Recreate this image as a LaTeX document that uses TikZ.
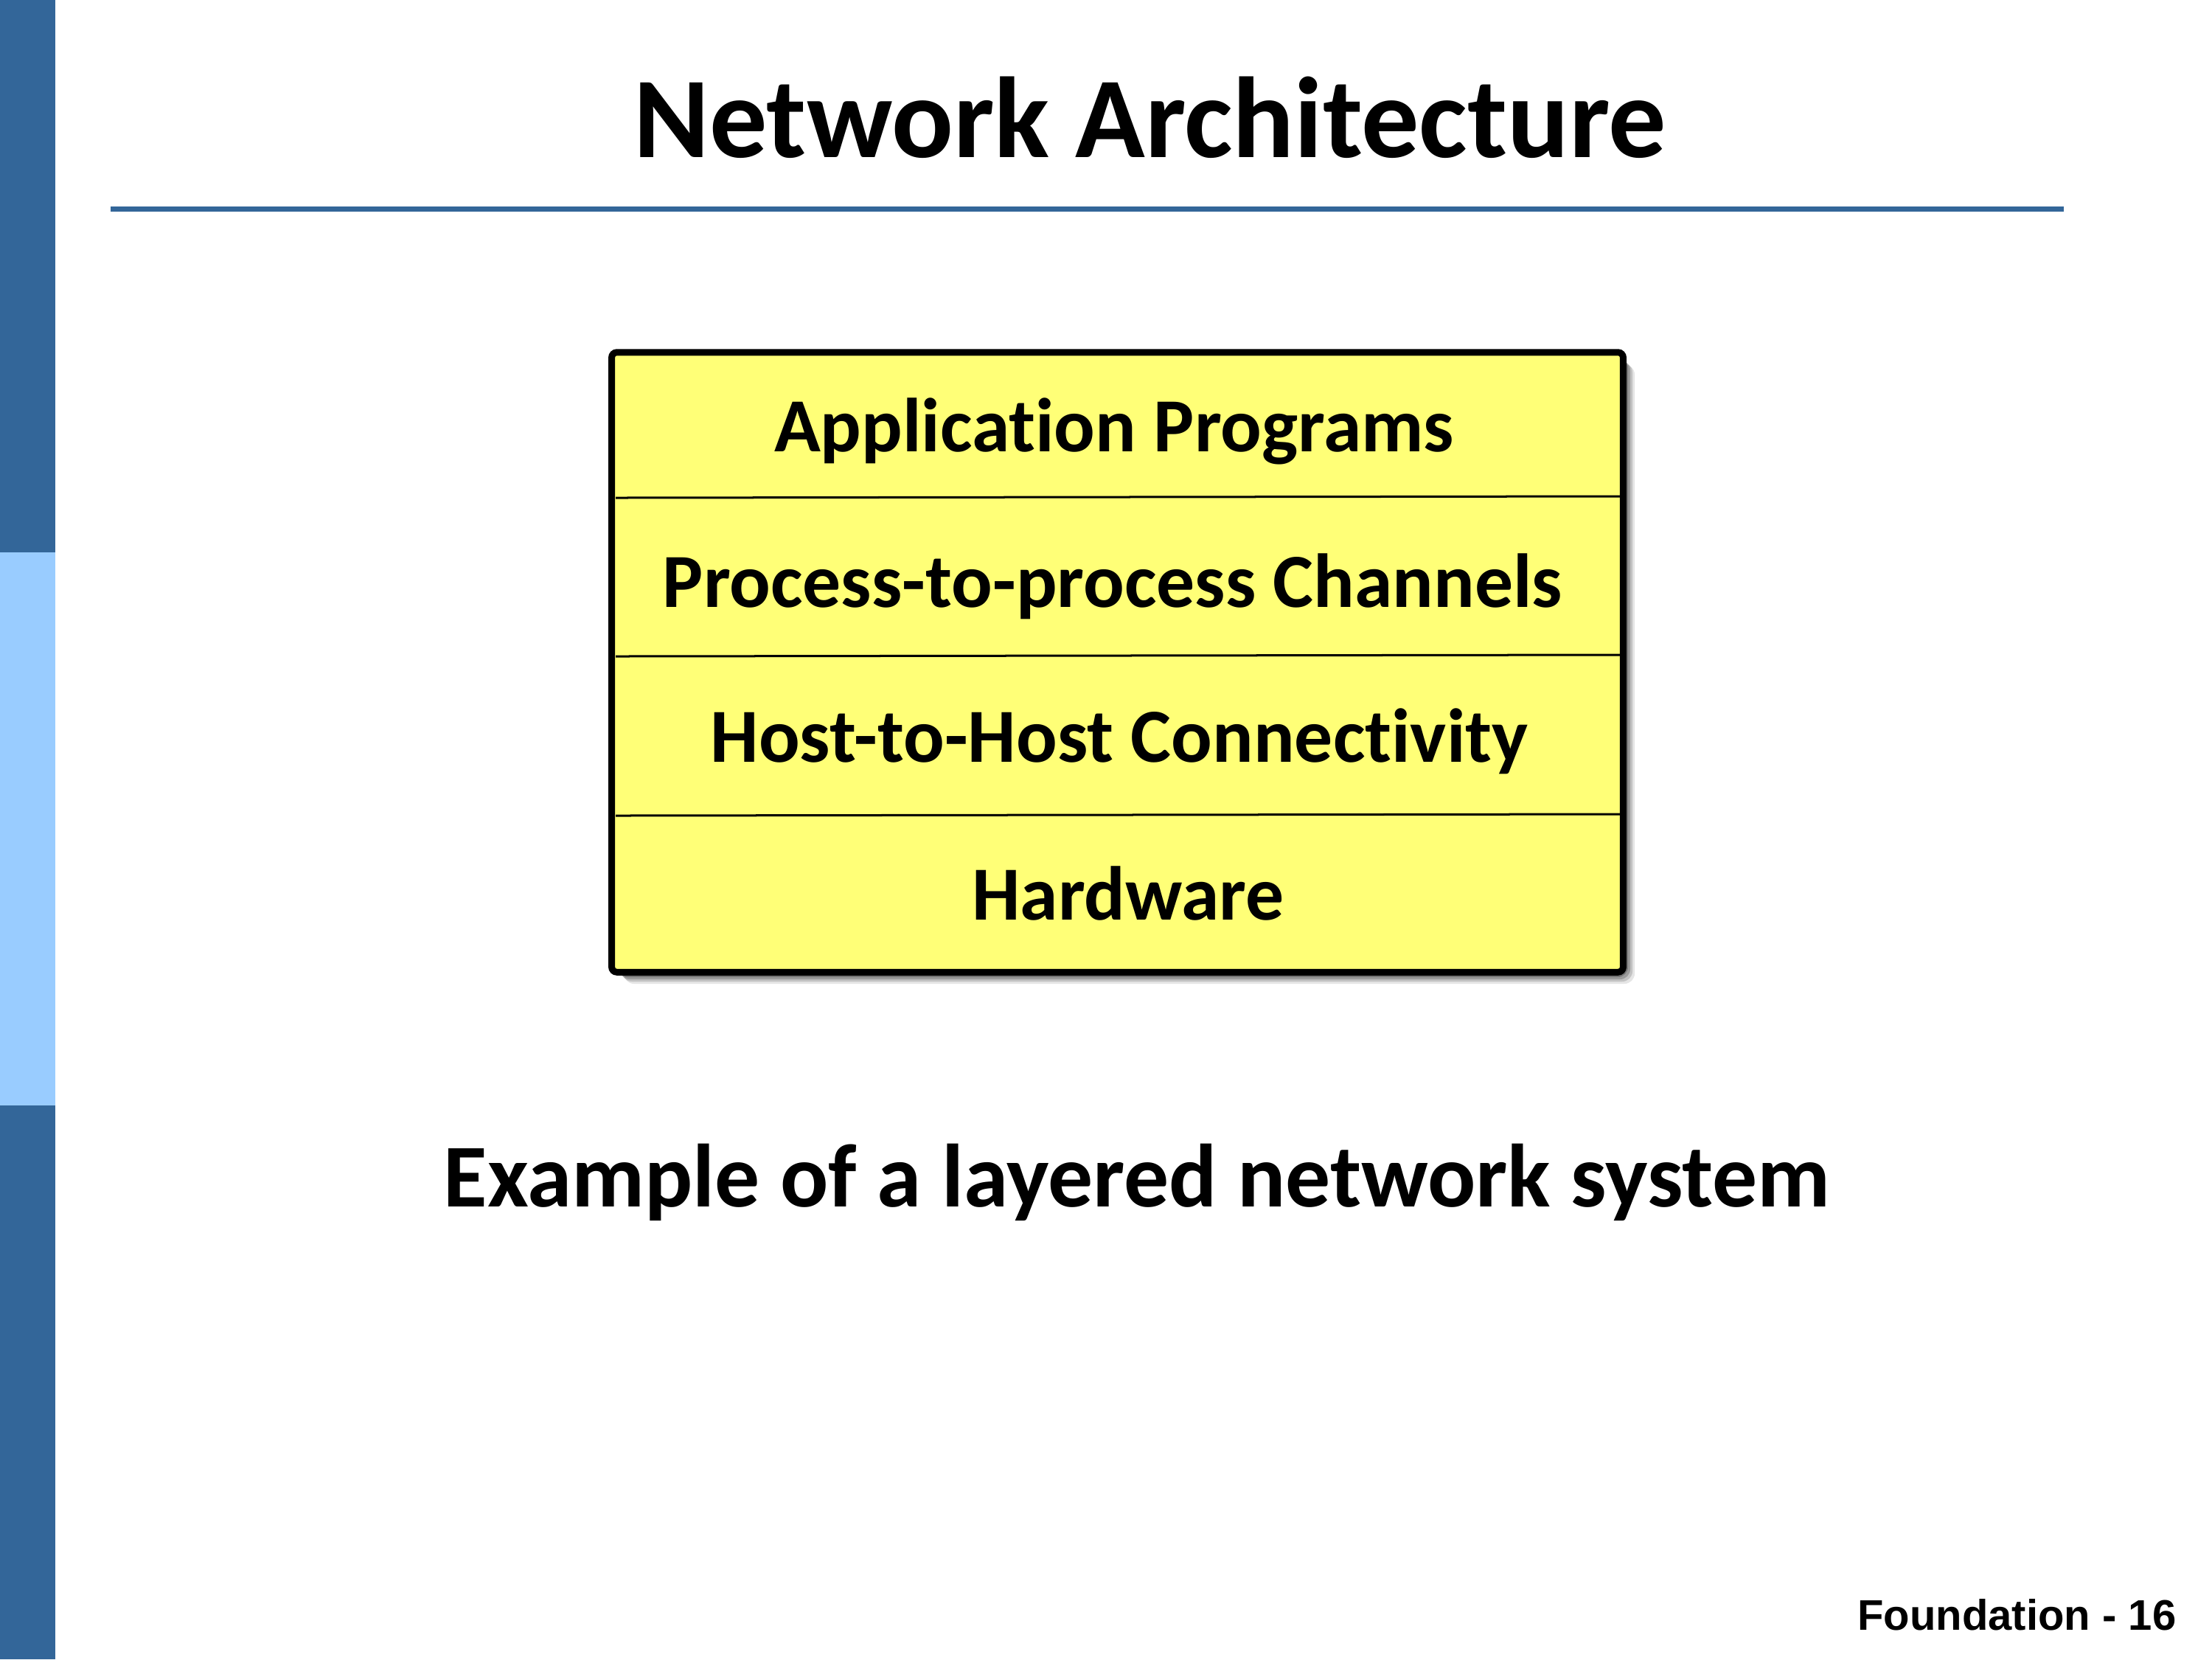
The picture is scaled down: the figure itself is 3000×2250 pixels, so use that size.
\documentclass[tikz,border=0pt]{standalone}
\usepackage{fontspec}
\setmainfont[Ligatures=NoCommon]{Carlito}
\newfontfamily\footfont{Liberation Sans}
\definecolor{darkbar}{HTML}{336699}
\definecolor{lightbar}{HTML}{99CCFF}
\definecolor{layerfill}{HTML}{FFFF77}
\tikzset{
  layertext/.style={anchor=base, font=\fontsize{29.5}{34}\selectfont\bfseries, inner sep=0pt},
  divider/.style={line width=0.03cm, black},
}
\begin{document}
\begin{tikzpicture}[x=0.01cm,y=-0.01cm]
\useasboundingbox (0,0) rectangle (3000,2250);
\fill[white] (0,0) rectangle (3000,2250);
% left bar
\fill[darkbar] (0,0) rectangle (75,749);
\fill[lightbar] (0,749) rectangle (75,1499);
\fill[darkbar] (0,1499) rectangle (75,2250);
% title
\node[anchor=base, inner sep=0pt, font=\fontsize{44.4}{50}\selectfont\bfseries] (title) at (1560,213) {Network Architecture};
\fill[darkbar] (150,280) rectangle (2799,287);
% shadow
\foreach \o/\op in {16/0.10,13/0.15,10/0.2,7/0.25} {
  \fill[black, opacity=\op, rounded corners=4] (830+\o,478+\o) rectangle (2201+\o,1318+\o);
}
% box
\node[draw=black, fill=layerfill, line width=0.09cm, rounded corners=2, minimum width=13.71cm, minimum height=8.40cm, inner sep=0pt] (box) at (1515.5,898) {};
\coordinate (d1l) at (835,675); \coordinate (d1r) at (2197,673);
\coordinate (d2l) at (835,890); \coordinate (d2r) at (2197,888);
\coordinate (d3l) at (835,1106); \coordinate (d3r) at (2197,1104);
\draw[divider] (d1l) -- (d1r);
\draw[divider] (d2l) -- (d2r);
\draw[divider] (d3l) -- (d3r);
\node[layertext] (app) at (1511,612) {Application Programs};
\node[layertext] (proc) at (1509,823) {Process-to-process Channels};
\node[layertext] (host) at (1518,1033) {Host-to-Host Connectivity};
\node[layertext] (hw) at (1530,1247) {Hardware};
% caption
\node[anchor=base, inner sep=0pt, font=\fontsize{34.6}{40}\selectfont\bfseries] (caption) at (1542,1636) {Example of a layered network system};
% footer
\node[anchor=base east, inner sep=0pt, font=\footfont\fontsize{16.5}{20}\selectfont\bfseries] (footer) at (2952,2210) {Foundation - 16};
\end{tikzpicture}
\end{document}
